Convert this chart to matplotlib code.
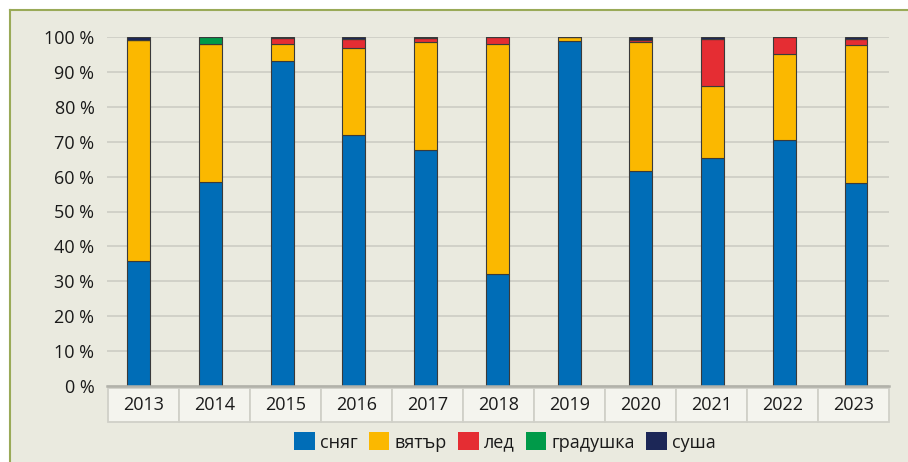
import matplotlib
matplotlib.use('Agg')
import matplotlib.pyplot as plt
from matplotlib.patches import Rectangle, Patch
from matplotlib.lines import Line2D

years = ['2013', '2014', '2015', '2016', '2017', '2018', '2019', '2020', '2021', '2022', '2023']
snow = [35.9, 58.5, 93.2, 71.9, 67.5, 32.0, 98.9, 61.5, 65.3, 70.4, 58.2]
wind = [63.3, 39.5, 4.9, 25.0, 31.0, 66.0, 1.0, 37.2, 20.7, 24.6, 39.4]
ice = [0.0, 0.0, 1.7, 2.5, 1.3, 2.0, 0.0, 0.5, 13.3, 5.0, 1.8]
hail = [0.0, 2.0, 0.0, 0.0, 0.0, 0.0, 0.0, 0.0, 0.0, 0.0, 0.0]
drought = [0.8, 0.0, 0.2, 0.6, 0.2, 0.0, 0.1, 0.8, 0.7, 0.0, 0.6]
series_names = ['сняг', 'вятър', 'лед', 'градушка', 'суша']
series = [snow, wind, ice, hail, drought]
colors = ['#006db7', '#fbb800', '#e52d33', '#009a49', '#1c2757']
yticks = [0, 10, 20, 30, 40, 50, 60, 70, 80, 90, 100]

bg = '#eaeadf'
plt.rcParams['font.family'] = ['Open Sans', 'DejaVu Sans']

W, H = 908, 462
fig = plt.figure(figsize=(W / 100, H / 100), dpi=100, facecolor='white')

# beige panel with olive frame on left/top
fig.patches.append(Rectangle((9.5 / W, 0), 1, 1 - 9.5 / H, transform=fig.transFigure,
                             facecolor=bg, edgecolor='none', zorder=-5))
fig.lines.append(Line2D([9.5 / W, 9.5 / W], [0, 1 - 9.5 / H], transform=fig.transFigure,
                        color='#9aaa58', lw=1.5, zorder=-4))
fig.lines.append(Line2D([9.5 / W, 1], [1 - 9.5 / H, 1 - 9.5 / H], transform=fig.transFigure,
                        color='#9aaa58', lw=1.5, zorder=-4))

ax_l, ax_r, ax_b, ax_t = 107, 889, 386, 37
ax = fig.add_axes([ax_l / W, 1 - ax_b / H, (ax_r - ax_l) / W, (ax_b - ax_t) / H])
ax.set_facecolor('none')

x = list(range(len(years)))
bottom = [0.0] * len(years)
for vals, col in zip(series, colors):
    ax.bar(x, vals, bottom=bottom, width=0.32, color=col, edgecolor='#3a3a3a',
           linewidth=0.8, zorder=3)
    bottom = [b + v for b, v in zip(bottom, vals)]

# bar centres sit slightly off the table cells, as in the original
ax.set_xlim(-0.443, 10.46)
ax.set_ylim(0, 100)
ax.set_yticks(yticks)
ax.set_yticklabels([f'{t} %' for t in yticks], fontsize=13, color='#1a1a1a')
ax.tick_params(axis='y', length=0, pad=9)
ax.tick_params(axis='x', length=0, labelbottom=False)
ax.grid(axis='y', color='#cfcfc6', lw=1.3, zorder=1)
for s in ['top', 'right', 'left']:
    ax.spines[s].set_visible(False)
ax.spines['bottom'].set_color('#b2b2aa')
ax.spines['bottom'].set_linewidth(1.8)
ax.spines['bottom'].set_zorder(4)

# category table under the axis
cell_w = (889.3 - 108) / len(years)
y0 = (ax_b - 422) / (ax_b - ax_t)
y1 = (ax_b - 388) / (ax_b - ax_t)
span = ax_r - ax_l
for i, yr in enumerate(years):
    left = (108 + cell_w * i - ax_l) / span
    ax.add_patch(Rectangle((left, y0), cell_w / span, y1 - y0, transform=ax.transAxes,
                           facecolor='#f4f4ee', edgecolor='#d0d0c8', lw=1.3, clip_on=False))
    ax.text(left + cell_w / span / 2, (y0 + y1) / 2, yr, transform=ax.transAxes,
            ha='center', va='center', fontsize=13, color='#1a1a1a')

handles = [Patch(facecolor=c, edgecolor='none', label=n) for n, c in zip(series_names, colors)]
fig.legend(handles=handles, loc='center', bbox_to_anchor=(505 / W, 1 - 442 / H), ncol=5,
           frameon=False, fontsize=13, handlelength=1.15, handleheight=1.15,
           handletextpad=0.3, columnspacing=0.6, labelcolor='#1a1a1a')

fig.savefig('out.png', dpi=100, facecolor='white')
